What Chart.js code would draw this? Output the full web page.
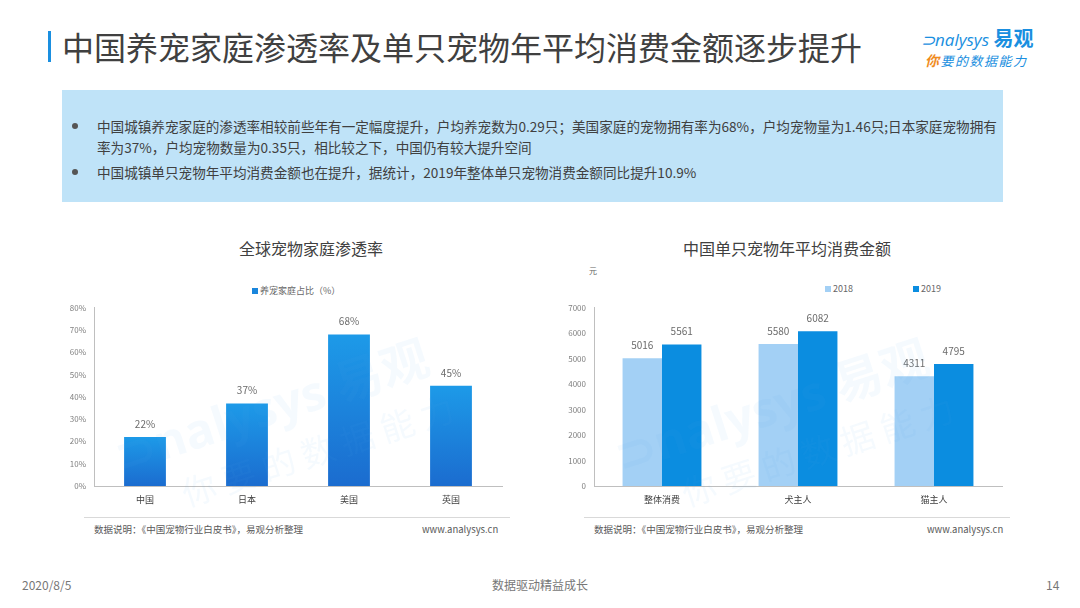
<!DOCTYPE html>
<html>
<head>
<meta charset="utf-8">
<script src="https://cdn.jsdelivr.net/npm/chart.js@4.4.1/dist/chart.umd.min.js"></script>
<style>
  body { margin: 0; background: #fff; font-family: "Noto Sans CJK SC", "Noto Sans", sans-serif; }
  #page { position: relative; width: 1080px; height: 608px; overflow: hidden; background: #fff; }
  .abs { position: absolute; white-space: nowrap; }
  #titleBar { left: 48px; top: 31px; width: 3px; height: 31px; background: #1a8fe0; }
  #title { left: 62px; top: 26px; font-size: 32px; line-height: 40px; color: #404040; }
  #note { left: 62px; top: 90px; width: 941px; height: 112px; background: #bfe3f8; }
  .line { position: absolute; left: 35px; font-size: 13.6px; color: #404040; line-height: 20px; }
  .dot { position: absolute; left: 10px; width: 6px; height: 6px; border-radius: 3px; background: #555; }
  .ctitle { font-size: 16px; color: #404040; line-height: 20px; transform: translateX(-50%); }
  .leg { font-size: 9px; color: #666; line-height: 12px; }
  .sq { display: inline-block; width: 6px; height: 6px; margin-right: 2px; vertical-align: 0px; }
  .foot { font-size: 9.5px; color: #595959; line-height: 12px; }
  .rule { height: 1px; background: #d9d9d9; }
  .bottom { font-size: 12px; color: #777; line-height: 16px; }
  canvas { position: absolute; }
  .wm { color: rgba(90, 170, 230, 0.06); font-weight: bold; transform-origin: left top; pointer-events: none; }
</style>
</head>
<body>
<div id="page">
  <div class="abs" id="titleBar"></div>
  <div class="abs" id="title">中国养宠家庭渗透率及单只宠物年平均消费金额逐步提升</div>

  <div class="abs" style="left:921px;top:26px;font-size:17px;line-height:24px;color:#1a8fe0;font-family:'Open Sans',sans-serif;">
    <span style="font-style:italic;">⊃nalysys</span>
    <span style="font-family:'Noto Sans CJK SC';font-weight:bold;font-size:20px;">易观</span>
  </div>
  <div class="abs" style="left:925px;top:52px;font-size:13px;line-height:16px;color:#1a8fe0;font-style:italic;letter-spacing:1.5px;">
    <span style="color:#f08c1e;font-weight:bold;font-size:14px;">你</span>要的数据能力
  </div>

  <div class="abs" id="note">
    <div class="dot" style="top:33px;"></div>
    <div class="line" style="top:26px;">中国城镇养宠家庭的渗透率相较前些年有一定幅度提升，户均养宠数为0.29只；美国家庭的宠物拥有率为68%，户均宠物量为1.46只;日本家庭宠物拥有</div>
    <div class="line" style="top:47px;">率为37%，户均宠物数量为0.35只，相比较之下，中国仍有较大提升空间</div>
    <div class="dot" style="top:79px;"></div>
    <div class="line" style="top:72px;">中国城镇单只宠物年平均消费金额也在提升，据统计，2019年整体单只宠物消费金额同比提升10.9%</div>
  </div>

  <!-- left chart -->
  <div class="abs ctitle" style="left:311px;top:238px;">全球宠物家庭渗透率</div>
  <div class="abs leg" id="legLeft" style="left:252px;top:285px;"></div>
  <canvas id="leftChart" style="left:50px;top:295px;width:460px;height:215px;"></canvas>
  <div class="abs rule" style="left:84px;top:517px;width:426px;"></div>
  <div class="abs foot" style="left:94px;top:523px;">数据说明：《中国宠物行业白皮书》，易观分析整理</div>
  <div class="abs foot" style="left:422px;top:523px;">www.analysys.cn</div>

  <!-- right chart -->
  <div class="abs ctitle" style="left:787px;top:238px;">中国单只宠物年平均消费金额</div>
  <div class="abs" style="left:589px;top:265px;font-size:8px;color:#666;">元</div>
  <div class="abs leg" id="legRight" style="left:825px;top:283px;"></div>
  <canvas id="rightChart" style="left:550px;top:295px;width:460px;height:215px;"></canvas>
  <div class="abs rule" style="left:584px;top:517px;width:426px;"></div>
  <div class="abs foot" style="left:594px;top:523px;">数据说明：《中国宠物行业白皮书》，易观分析整理</div>
  <div class="abs foot" style="left:927px;top:523px;">www.analysys.cn</div>

  <!-- faint watermarks -->
  <div class="abs wm" style="left:105px;top:420px;font-size:48px;transform:rotate(-18deg);font-family:'Open Sans',sans-serif;">⊃nalysys <span style="font-family:'Noto Sans CJK SC'">易观</span></div>
  <div class="abs wm" style="left:175px;top:470px;font-size:34px;transform:rotate(-18deg);font-weight:normal;">你 要 的 数 据 能 力</div>
  <div class="abs wm" style="left:605px;top:420px;font-size:48px;transform:rotate(-18deg);font-family:'Open Sans',sans-serif;">⊃nalysys <span style="font-family:'Noto Sans CJK SC'">易观</span></div>
  <div class="abs wm" style="left:675px;top:470px;font-size:34px;transform:rotate(-18deg);font-weight:normal;">你 要 的 数 据 能 力</div>

  <div class="abs bottom" style="left:22px;top:577px;">2020/8/5</div>
  <div class="abs bottom" style="left:540px;top:577px;transform:translateX(-50%);">数据驱动精益成长</div>
  <div class="abs bottom" style="left:1046px;top:577px;">14</div>
</div>

<script>
// Left chart data
const countries = ['中国', '日本', '美国', '英国'];
const petRate = [22, 37, 68, 45];
const rateTicks = [0, 10, 20, 30, 40, 50, 60, 70, 80];

// Right chart data
const groups = ['整体消费', '犬主人', '猫主人'];
const spend2018 = [5016, 5580, 4311];
const spend2019 = [5561, 6082, 4795];
const spendTicks = [0, 1000, 2000, 3000, 4000, 5000, 6000, 7000];

const FONT = '"Noto Sans CJK SC", "Noto Sans", sans-serif';
const AXIS = '#bfbfbf';

// Small legends
document.getElementById('legLeft').innerHTML =
  '<span class="sq" style="background:#1a86dc"></span>养宠家庭占比（%）';
document.getElementById('legRight').innerHTML =
  '<span class="sq" style="background:#a3d0f5"></span>2018' +
  '<span style="display:inline-block;width:60px"></span>' +
  '<span class="sq" style="background:#0b8de0"></span>2019';

// Value labels above bars
const barLabels = {
  id: 'barLabels',
  afterDatasetsDraw(chart, args, opts) {
    const ctx = chart.ctx;
    ctx.save();
    ctx.font = '10px ' + FONT;
    ctx.fillStyle = '#6b6b6b';
    ctx.textAlign = 'center';
    ctx.textBaseline = 'middle';
    chart.data.datasets.forEach((ds, i) => {
      chart.getDatasetMeta(i).data.forEach((bar, j) => {
        ctx.fillText(opts.format(ds.data[j]), bar.x, bar.y - 13);
      });
    });
    ctx.restore();
  }
};

function yAxis(max, step, ticks, fmt) {
  return {
    min: 0, max: max,
    afterFit: s => { s.width = 44; },
    afterBuildTicks: s => { s.ticks = ticks.map(v => ({ value: v })); },
    grid: { display: false, drawTicks: false },
    border: { display: true, color: AXIS, width: 1 },
    ticks: { stepSize: step, padding: 8, color: '#808080', font: { size: 8, family: FONT }, callback: fmt }
  };
}

const xAxis = {
  afterFit: s => { s.height = 24; },
  grid: { display: false, drawTicks: false },
  border: { display: true, color: AXIS, width: 1 },
  ticks: { padding: 8, color: '#404040', font: { size: 9, family: FONT } }
};

new Chart(document.getElementById('leftChart'), {
  type: 'bar',
  data: {
    labels: countries,
    datasets: [{
      label: '养宠家庭占比（%）',
      data: petRate,
      backgroundColor: c => {
        const chart = c.chart;
        const area = chart.chartArea;
        if (!area || c.raw === undefined) return '#1a86dc';
        const top = chart.scales.y.getPixelForValue(c.raw);
        const g = chart.ctx.createLinearGradient(0, top, 0, area.bottom);
        g.addColorStop(0, '#1d9ae8');
        g.addColorStop(1, '#1b6ccf');
        return g;
      },
      categoryPercentage: 1,
      barPercentage: 0.41
    }]
  },
  options: {
    responsive: false,
    animation: false,
    layout: { padding: { top: 2, right: 8, left: 0, bottom: 0 } },
    plugins: {
      legend: { display: false },
      tooltip: { enabled: false },
      barLabels: { format: v => v + '%' }
    },
    scales: { x: xAxis, y: yAxis(80, 10, rateTicks, v => v + '%') }
  },
  plugins: [barLabels]
});

new Chart(document.getElementById('rightChart'), {
  type: 'bar',
  data: {
    labels: groups,
    datasets: [
      { label: '2018', data: spend2018, backgroundColor: '#a3d0f5', categoryPercentage: 0.58, barPercentage: 1 },
      { label: '2019', data: spend2019, backgroundColor: '#0b8de0', categoryPercentage: 0.58, barPercentage: 1 }
    ]
  },
  options: {
    responsive: false,
    animation: false,
    layout: { padding: { top: 2, right: 8, left: 0, bottom: 0 } },
    plugins: {
      legend: { display: false },
      tooltip: { enabled: false },
      barLabels: { format: v => String(v) }
    },
    scales: { x: xAxis, y: yAxis(7000, 1000, spendTicks, v => String(v)) }
  },
  plugins: [barLabels]
});
</script>
</body>
</html>
